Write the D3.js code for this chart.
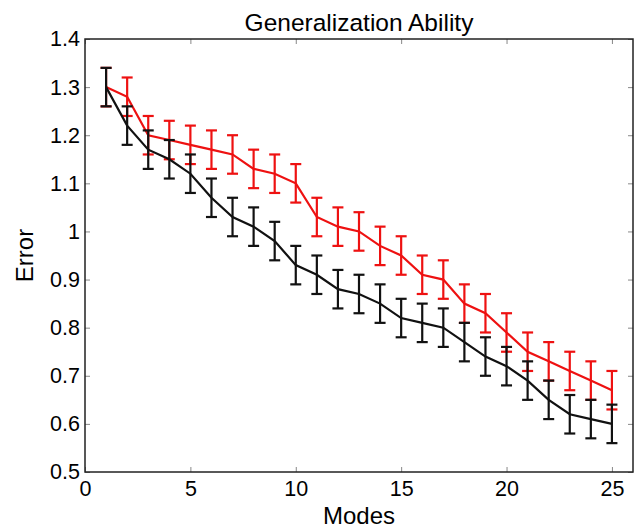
<!DOCTYPE html>
<html>
<head>
<meta charset="utf-8">
<script src="https://cdn.jsdelivr.net/npm/d3@7"></script>
<style>
  body { margin: 0; background: #fff; }
  text { font-family: "Liberation Sans", Arial, sans-serif; fill: #000; }
</style>
</head>
<body>
<svg id="chart"></svg>
<script>
const modes = d3.range(1, 26);
const redMean = [1.30, 1.28, 1.20, 1.19, 1.18, 1.17, 1.16, 1.13, 1.12, 1.10,
                 1.03, 1.01, 1.00, 0.97, 0.95, 0.91, 0.90, 0.85, 0.83, 0.79,
                 0.75, 0.73, 0.71, 0.69, 0.67];
const redErr = [0.04, 0.04, 0.04, 0.04, 0.04, 0.04, 0.04, 0.04, 0.04, 0.04,
                0.04, 0.04, 0.04, 0.04, 0.04, 0.04, 0.04, 0.04, 0.04, 0.04,
                0.04, 0.04, 0.04, 0.04, 0.04];
const blackMean = [1.30, 1.22, 1.17, 1.15, 1.12, 1.07, 1.03, 1.01, 0.98, 0.93,
                   0.91, 0.88, 0.87, 0.85, 0.82, 0.81, 0.80, 0.77, 0.74, 0.72,
                   0.69, 0.65, 0.62, 0.61, 0.60];
const blackErr = [0.04, 0.04, 0.04, 0.04, 0.04, 0.04, 0.04, 0.04, 0.04, 0.04,
                  0.04, 0.04, 0.04, 0.04, 0.04, 0.04, 0.04, 0.04, 0.04, 0.04,
                  0.04, 0.04, 0.04, 0.04, 0.04];
const xTicks = [0, 5, 10, 15, 20, 25];
const yTicks = [0.5, 0.6, 0.7, 0.8, 0.9, 1.0, 1.1, 1.2, 1.3, 1.4];

const width = 636;
const height = 530;
const margin = {top: 39, right: 3, bottom: 58, left: 85};

const svg = d3.select('#chart')
    .attr('width', width)
    .attr('height', height);

const x = d3.scaleLinear().domain([0, 26]).range([margin.left, width - margin.right]);
const y = d3.scaleLinear().domain([0.5, 1.4]).range([height - margin.bottom, margin.top]);

const fmt = d => d === 1 ? '1' : d3.format('.1f')(d);

// inward ticks on all four sides
svg.append('g')
    .attr('transform', `translate(0,${y(0.5)})`)
    .call(d3.axisBottom(x).tickValues(xTicks).tickSizeInner(-5).tickSizeOuter(0).tickPadding(9))
    .call(g => g.select('.domain').remove())
    .call(g => g.selectAll('line').attr('stroke', '#888'))
    .call(g => g.selectAll('text').attr('font-size', 21.5));

svg.append('g')
    .attr('transform', `translate(0,${y(1.4)})`)
    .call(d3.axisTop(x).tickValues(xTicks).tickSizeInner(-5).tickSizeOuter(0).tickFormat(''))
    .call(g => g.select('.domain').remove())
    .call(g => g.selectAll('line').attr('stroke', '#888'));

svg.append('g')
    .attr('transform', `translate(${x(0)},0)`)
    .call(d3.axisLeft(y).tickValues(yTicks).tickFormat(fmt).tickSizeInner(-5).tickSizeOuter(0).tickPadding(5))
    .call(g => g.select('.domain').remove())
    .call(g => g.selectAll('line').attr('stroke', '#888'))
    .call(g => g.selectAll('text').attr('font-size', 21.5));

svg.append('g')
    .attr('transform', `translate(${x(26)},0)`)
    .call(d3.axisRight(y).tickValues(yTicks).tickSizeInner(-5).tickSizeOuter(0).tickFormat(''))
    .call(g => g.select('.domain').remove())
    .call(g => g.selectAll('line').attr('stroke', '#888'));

// frame
svg.append('rect')
    .attr('x', x(0))
    .attr('y', y(1.4))
    .attr('width', x(26) - x(0))
    .attr('height', y(0.5) - y(1.4))
    .attr('fill', 'none')
    .attr('stroke', '#222')
    .attr('stroke-width', 1.5);

function drawSeries(means, errs, color) {
    const pts = modes.map((m, i) => ({m, v: means[i], e: errs[i]}));
    const line = d3.line().x(d => x(d.m)).y(d => y(d.v));
    svg.append('path')
        .datum(pts)
        .attr('d', line)
        .attr('fill', 'none')
        .attr('stroke', color)
        .attr('stroke-width', 2.2);

    const bars = svg.append('g')
        .attr('stroke', color)
        .attr('stroke-width', 2.2)
        .selectAll('g')
        .data(pts)
        .enter().append('g');
    bars.append('line')
        .attr('x1', d => x(d.m)).attr('x2', d => x(d.m))
        .attr('y1', d => y(d.v - d.e)).attr('y2', d => y(d.v + d.e));
    bars.append('line')
        .attr('x1', d => x(d.m) - 5.5).attr('x2', d => x(d.m) + 5.5)
        .attr('y1', d => y(d.v + d.e)).attr('y2', d => y(d.v + d.e));
    bars.append('line')
        .attr('x1', d => x(d.m) - 5.5).attr('x2', d => x(d.m) + 5.5)
        .attr('y1', d => y(d.v - d.e)).attr('y2', d => y(d.v - d.e));
}

drawSeries(redMean, redErr, '#ee1111');
drawSeries(blackMean, blackErr, '#111');

svg.append('text')
    .attr('x', (x(0) + x(26)) / 2)
    .attr('y', 31)
    .attr('text-anchor', 'middle')
    .attr('font-size', 24.5)
    .text('Generalization Ability');

svg.append('text')
    .attr('x', (x(0) + x(26)) / 2)
    .attr('y', 524)
    .attr('text-anchor', 'middle')
    .attr('font-size', 24)
    .text('Modes');

svg.append('text')
    .attr('transform', `translate(33,${(y(0.5) + y(1.4)) / 2}) rotate(-90)`)
    .attr('text-anchor', 'middle')
    .attr('font-size', 24)
    .text('Error');
</script>
</body>
</html>
